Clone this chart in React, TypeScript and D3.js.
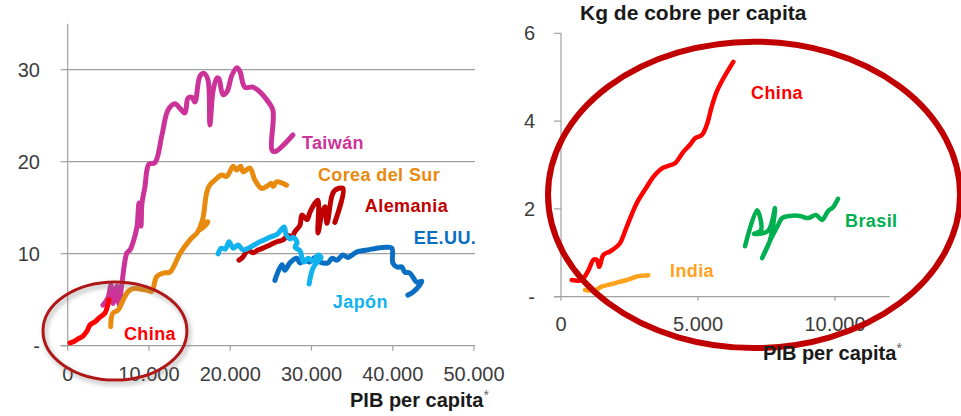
import React from 'react';
import * as d3 from 'd3';

type P = [number, number];

// ---------- Left panel data: [PIB per capita, kg cobre per capita] ----------
const chinaLeft: P[] = [
  [283, 0.3], [775, 0.45], [1267, 0.73], [1882, 1.05], [2374, 1.6], [2743, 2.25],
  [3358, 2.6], [3973, 3.1], [4588, 3.55], [4834, 4.1], [5080, 5.0],
];
const taiwan: P[] = [
  [4342, 4.4], [4957, 5.2], [5326, 6.6], [5572, 4.6], [6064, 6.5], [6310, 4.5],
  [6679, 6.8], [7294, 10.1], [7663, 10.4], [8032, 11.2], [8524, 12.9], [8770, 15.5],
  [9016, 13.0], [9139, 15.5], [9508, 17.3], [9754, 19.1], [10000, 19.75], [10738, 19.9],
  [11599, 22.9], [12337, 25.6], [13199, 26.3], [13814, 25.8], [14429, 25.3], [14798, 26.9],
  [15290, 27.0], [15659, 26.5], [16274, 29.3], [16766, 29.6], [17258, 28.9], [17504, 24.0],
  [17873, 27.6], [18365, 29.1], [18611, 29.0], [19103, 27.3], [19595, 27.6], [20210, 29.4],
  [20825, 30.2], [21194, 29.8], [21809, 28.1], [22793, 28.1], [23654, 27.6], [24515, 26.7],
  [25253, 25.6], [25130, 21.3], [25499, 21.1], [27713, 22.9],
];
const korea: P[] = [
  [5289, 2.07], [5535, 3.5], [6224, 3.9], [6839, 5.0], [7454, 5.9], [8069, 6.2],
  [8684, 6.2], [9717, 6.05], [10332, 5.9], [10947, 7.5], [11759, 7.9], [12583, 8.0],
  [13813, 10.0], [15043, 11.5], [15904, 12.25], [16643, 13.3], [17258, 13.45], [16274, 12.6],
  [16679, 14.0], [17097, 16.6], [17503, 17.5], [18118, 18.0], [18942, 18.55], [19557, 18.4],
  [20369, 19.5], [20787, 19.1], [21279, 19.5], [21599, 18.9], [22423, 19.3], [23038, 18.0],
  [23862, 17.1], [24477, 17.3], [25092, 17.65], [25289, 17.3], [25707, 17.8], [26937, 17.45],
];
const alemania: P[] = [
  [21078, 9.3], [21570, 9.65], [22185, 10.4], [22800, 10.1], [23415, 10.4], [24030, 10.6],
  [24891, 10.95], [25752, 11.3], [26490, 11.5], [27105, 12.0], [27597, 11.8], [27966, 12.4],
  [28581, 13.1], [28827, 14.2], [29442, 13.7], [29811, 14.5], [30426, 15.5], [30796, 15.8],
  [30796, 12.25], [31288, 14.4], [31657, 15.1], [31903, 13.3], [32518, 16.3], [32887, 16.9],
  [33871, 17.1], [32878, 13.4],
];
const eeuu: P[] = [
  [25498, 7.1], [26360, 8.8], [26729, 8.2], [27344, 9.0], [28205, 9.5], [28574, 9.0],
  [29189, 9.3], [29804, 9.1], [30419, 9.6], [31034, 9.1], [32018, 9.0], [32510, 9.5],
  [33125, 9.3], [33863, 9.86], [34478, 9.6], [35585, 10.2], [36815, 10.4], [38045, 10.6],
  [39275, 10.7], [39890, 10.6], [40013, 9.0], [40505, 8.55], [41120, 8.55], [41489, 8.0],
  [42104, 7.9], [42965, 6.9], [43580, 7.0], [43334, 6.6], [42473, 5.8], [41858, 5.5],
];
const japon: P[] = [
  [18512, 9.97], [18881, 10.6], [19373, 10.5], [19865, 11.3], [20357, 10.6], [20972, 10.95],
  [21587, 10.4], [22448, 10.7], [23432, 11.2], [24170, 11.5], [24908, 11.8], [25769, 12.1],
  [26630, 12.9], [26876, 12.1], [27368, 11.6], [27737, 11.8], [28229, 11.2], [27983, 10.7],
  [28598, 10.3], [28844, 9.5], [29090, 9.1], [29582, 9.5], [30197, 9.2], [30812, 9.85],
  [31181, 9.6], [30812, 9.2], [30197, 8.45], [29705, 6.7],
];

// ---------- Right panel data ----------
const chinaRight: P[] = [
  [391, 0.38], [756, 0.38], [938, 0.53], [1059, 0.68], [1179, 0.84], [1303, 0.84],
  [1398, 0.68], [1544, 0.95], [1788, 1.03], [2033, 1.14], [2154, 1.22], [2398, 1.59],
  [2763, 2.13], [3128, 2.5], [3369, 2.73], [3675, 2.92], [3916, 2.98], [4161, 3.04],
  [4464, 3.3], [4708, 3.46], [4891, 3.61], [5136, 3.68], [5318, 3.91], [5501, 4.33],
  [5683, 4.67], [5924, 4.97], [6289, 5.35],
];
const india: P[] = [
  [876, 0.15], [1121, 0.14], [1303, 0.17], [1486, 0.23], [1727, 0.27], [1971, 0.31],
  [2154, 0.34], [2398, 0.38], [2581, 0.42], [2763, 0.46], [3004, 0.48], [3187, 0.49],
];
const brasil: P[] = [
  [6716, 1.15], [7154, 1.97], [7300, 1.52], [7045, 1.43], [7556, 1.5], [7811, 2.02],
  [7629, 1.29], [7337, 0.88], [7556, 1.18], [7921, 1.63], [8067, 1.79], [8359, 1.84],
  [8724, 1.84], [9016, 1.79], [9308, 1.86], [9527, 1.75], [9746, 1.95], [9929, 2.04],
  [10111, 2.23],
];

// ---------- Ticks & text ----------
const leftXTicks = [0, 10000, 20000, 30000, 40000, 50000];
const leftYTicks = [0, 10, 20, 30];
const rightXTicks = [0, 5000, 10000];
const rightYTicks = [0, 2, 4, 6];
const rightTitle = 'Kg de cobre per capita';
const xTitle = 'PIB per capita';

const leftSeries = [
  { name: 'Taiwán', data: taiwan, color: '#CC3399', label: [28819, 21.4] as P },
  { name: 'Corea del Sur', data: korea, color: '#E88A0E', label: [30787, 17.9] as P },
  { name: 'EE.UU.', data: eeuu, color: '#0A6FC2', label: [42595, 11.05] as P },
  { name: 'Alemania', data: alemania, color: '#C00000', label: [36567, 14.5] as P },
  { name: 'Japón', data: japon, color: '#12B2EE', label: [32632, 4.1] as P },
  { name: 'China', data: chinaLeft, color: '#FF0000', label: [6925, 0.62] as P },
];
const rightSeries = [
  { name: 'India', data: india, color: '#FFA21E', label: [3979, 0.45] as P },
  { name: 'Brasil', data: brasil, color: '#00B050', label: [10366, 1.59] as P },
  { name: 'China', data: chinaRight, color: '#FF0000', label: [6935, 4.5] as P },
];

// ellipse annotations in data units: center, radii
const leftEllipse = { c: [5818, 1.6] as P, r: [8856, 5.33] as P };
const rightEllipse = { c: [7045, 2.32] as P, r: [7519, 3.49] as P };

const loc = d3.formatLocale({ decimal: ',', thousands: '.', grouping: [3], currency: ['', ''] });
const fmtX = loc.format(',');
const fmtY = (v: number) => (v === 0 ? '-' : String(v));

const FONT = '"Liberation Sans", Arial, sans-serif';
const AXIS = '#A0A0A0';
const TICKTXT = '#3C3C3C';

export default function App() {
  const xL = d3.scaleLinear().domain([0, 50000]).range([67.7, 474]);
  const yL = d3.scaleLinear().domain([0, 35]).range([345.7, 23.7]);
  const xR = d3.scaleLinear().domain([0, 12000]).range([561, 889.8]);
  const yR = d3.scaleLinear().domain([0, 6]).range([296.7, 33.3]);

  const mkLine = (x: d3.ScaleLinear<number, number>, y: d3.ScaleLinear<number, number>) =>
    d3.line<P>().x(d => x(d[0])).y(d => y(d[1])).curve(d3.curveCatmullRom.alpha(0.5));
  const lineL = mkLine(xL, yL);
  const lineR = mkLine(xR, yR);

  return (
    <svg width={961} height={416} style={{ position: 'absolute', left: 0, top: 0, background: '#fff' }}
      fontFamily={FONT}>
      <defs>
        <filter id="shadow" x="-30%" y="-30%" width="160%" height="160%">
          <feDropShadow dx="2" dy="3" stdDeviation="2.5" floodColor="#777" floodOpacity="0.6" />
        </filter>
      </defs>
      <rect width={961} height={416} fill="#fff" />

      {/* ---------- LEFT PANEL ---------- */}
      {leftYTicks.filter(t => t > 0).map(t => (
        <line key={'gl' + t} x1={xL(0)} x2={xL(50000) + 1} y1={yL(t)} y2={yL(t)} stroke={AXIS} strokeWidth={1.2} />
      ))}
      <line x1={xL(0)} x2={xL(0)} y1={yL(35)} y2={yL(0)} stroke={AXIS} strokeWidth={1.2} />
      <line x1={xL(0) - 7} x2={xL(50000) + 1} y1={yL(0)} y2={yL(0)} stroke={AXIS} strokeWidth={1.2} />
      {leftYTicks.map(t => (
        <g key={'yl' + t}>
          <line x1={xL(0) - 7} x2={xL(0)} y1={yL(t)} y2={yL(t)} stroke={AXIS} strokeWidth={1.2} />
          <text x={40} y={yL(t)} dy="0.35em" textAnchor="end" fontSize={20} fill={TICKTXT}>{fmtY(t)}</text>
        </g>
      ))}
      {leftXTicks.map(t => (
        <g key={'xl' + t}>
          <line x1={xL(t)} x2={xL(t)} y1={yL(0)} y2={yL(0) + 5} stroke={AXIS} strokeWidth={1.2} />
          <text x={xL(t)} y={381} textAnchor="middle" fontSize={20} fill={TICKTXT}>{fmtX(t)}</text>
        </g>
      ))}
      <text x={350} y={407} fontSize={20} fontWeight="bold" fill="#1a1a1a">
        {xTitle}<tspan fontSize={14} fontWeight="normal" fill="#666" dy={-7}>*</tspan>
      </text>

      {leftSeries.map(s => (
        <path key={'pl' + s.name} d={lineL(s.data) || ''} fill="none" stroke={s.color}
          strokeWidth={5} strokeLinejoin="round" strokeLinecap="round" />
      ))}
      {leftSeries.map(s => (
        <text key={'tl' + s.name} x={xL(s.label[0])} y={yL(s.label[1])} fontSize={18} fontWeight="bold"
          fill={s.color} letterSpacing={0.4}>{s.name}</text>
      ))}

      <ellipse cx={xL(leftEllipse.c[0])} cy={yL(leftEllipse.c[1])}
        rx={xL(leftEllipse.c[0] + leftEllipse.r[0]) - xL(leftEllipse.c[0])}
        ry={yL(leftEllipse.c[1]) - yL(leftEllipse.c[1] + leftEllipse.r[1])}
        fill="none" stroke="#B01818" strokeWidth={3} filter="url(#shadow)" />

      {/* ---------- RIGHT PANEL ---------- */}
      <text x={580} y={20} fontSize={21} fontWeight="bold" fill="#1a1a1a">{rightTitle}</text>
      <line x1={xR(0)} x2={xR(0)} y1={yR(6)} y2={yR(0)} stroke={AXIS} strokeWidth={1.2} />
      <line x1={xR(0) - 7} x2={xR(12000)} y1={yR(0)} y2={yR(0)} stroke={AXIS} strokeWidth={1.2} />
      {rightYTicks.map(t => (
        <g key={'yr' + t}>
          <line x1={xR(0) - 7} x2={xR(0)} y1={yR(t)} y2={yR(t)} stroke={AXIS} strokeWidth={1.2} />
          <text x={535} y={yR(t)} dy="0.35em" textAnchor="end" fontSize={20} fill={TICKTXT}>{fmtY(t)}</text>
        </g>
      ))}
      {rightXTicks.map(t => (
        <g key={'xr' + t}>
          <line x1={xR(t)} x2={xR(t)} y1={yR(0)} y2={yR(0) + 4} stroke={AXIS} strokeWidth={1.2} />
          <text x={xR(t)} y={331} textAnchor="middle" fontSize={20} fill={TICKTXT}>{fmtX(t)}</text>
        </g>
      ))}

      {rightSeries.map(s => (
        <path key={'pr' + s.name} d={lineR(s.data) || ''} fill="none" stroke={s.color}
          strokeWidth={4.5} strokeLinejoin="round" strokeLinecap="round" />
      ))}
      {rightSeries.map(s => (
        <text key={'tr' + s.name} x={xR(s.label[0])} y={yR(s.label[1])} fontSize={18} fontWeight="bold"
          fill={s.color} letterSpacing={0.4}>{s.name}</text>
      ))}

      <ellipse cx={xR(rightEllipse.c[0])} cy={yR(rightEllipse.c[1])}
        rx={xR(rightEllipse.c[0] + rightEllipse.r[0]) - xR(rightEllipse.c[0])}
        ry={yR(rightEllipse.c[1]) - yR(rightEllipse.c[1] + rightEllipse.r[1])}
        fill="none" stroke="#C00000" strokeWidth={6} />

      <text x={763} y={360} fontSize={20} fontWeight="bold" fill="#1a1a1a">
        {xTitle}<tspan fontSize={14} fontWeight="normal" fill="#666" dy={-7}>*</tspan>
      </text>
    </svg>
  );
}
